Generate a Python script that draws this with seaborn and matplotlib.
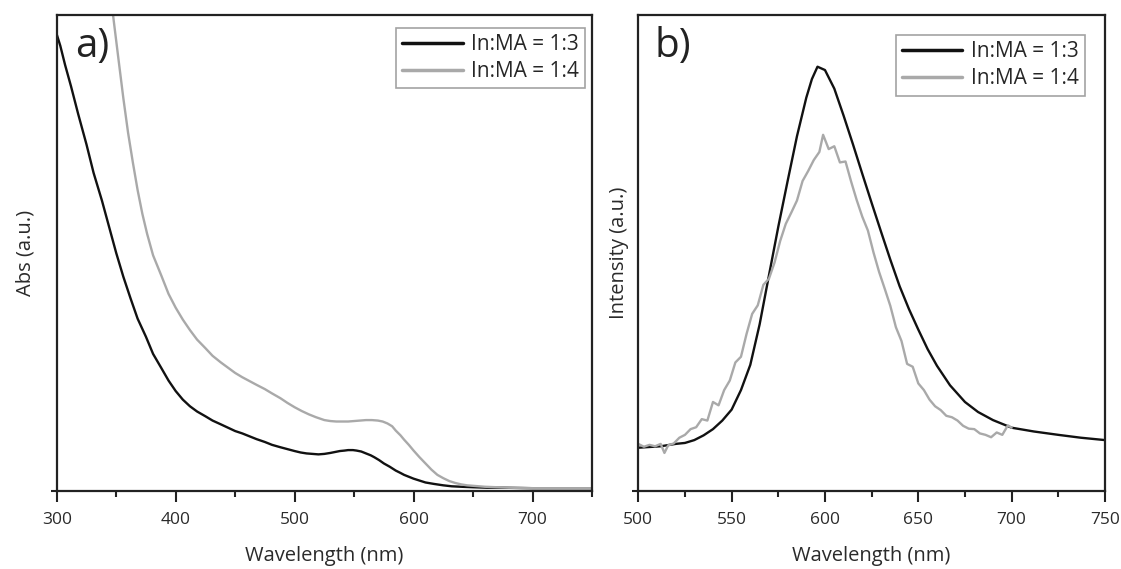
import matplotlib
matplotlib.use("Agg")
import matplotlib.pyplot as plt
import seaborn as sns
import pandas as pd
import numpy as np
from matplotlib.ticker import MultipleLocator

# ---- data (arbitrary units, 0 = bottom spine, 1 = top spine) ----
abs_wl_13 = [300, 303, 307, 312, 318, 325, 331, 338, 344, 350, 356, 362, 368, 375, 381, 388,
             394, 400, 406, 412, 418, 425, 431, 438, 444, 450, 456, 462, 468, 475, 481, 488,
             494, 500, 505, 510, 515, 520, 525, 530, 534, 538, 542, 545, 549, 552, 556, 560,
             564, 567, 571, 575, 580, 585, 589, 592, 596, 600, 605, 610, 617, 625, 632, 640,
             650, 662, 675, 700, 725, 750]
abs_13 = [0.959, 0.935, 0.895, 0.85, 0.792, 0.728, 0.668, 0.61, 0.555, 0.50, 0.450, 0.405,
          0.362, 0.324, 0.288, 0.258, 0.232, 0.21, 0.192, 0.178, 0.167, 0.157, 0.148, 0.14,
          0.133, 0.126, 0.121, 0.115, 0.109, 0.103, 0.097, 0.092, 0.088, 0.084, 0.081, 0.079,
          0.078, 0.077, 0.078, 0.080, 0.082, 0.084, 0.085, 0.086, 0.086, 0.085, 0.083, 0.079,
          0.075, 0.071, 0.065, 0.058, 0.051, 0.043, 0.038, 0.034, 0.030, 0.026, 0.022, 0.018,
          0.015, 0.012, 0.010, 0.009, 0.008, 0.007, 0.007, 0.006, 0.006, 0.006]

abs_wl_14 = [345, 348, 352, 356, 360, 364, 368, 372, 376, 381, 388, 394, 400, 406, 412, 418,
             425, 431, 438, 444, 450, 456, 462, 468, 475, 481, 488, 494, 500, 506, 512, 518,
             525, 530, 535, 540, 545, 550, 555, 560, 565, 570, 574, 578, 582, 585, 589, 592,
             596, 600, 605, 610, 615, 620, 625, 630, 635, 640, 645, 650, 660, 670, 680, 700,
             725, 750]
abs_14 = [1.05, 0.986, 0.905, 0.825, 0.752, 0.69, 0.632, 0.582, 0.54, 0.495, 0.452, 0.414,
          0.385, 0.36, 0.338, 0.318, 0.30, 0.284, 0.27, 0.259, 0.248, 0.239, 0.231, 0.223,
          0.214, 0.205, 0.195, 0.185, 0.176, 0.168, 0.161, 0.155, 0.149, 0.147, 0.146, 0.146,
          0.146, 0.147, 0.148, 0.149, 0.149, 0.148, 0.146, 0.142, 0.136, 0.127, 0.117, 0.108,
          0.097, 0.085, 0.071, 0.058, 0.045, 0.034, 0.027, 0.021, 0.017, 0.014, 0.012, 0.011,
          0.009, 0.008, 0.007, 0.006, 0.006, 0.006]

pl_wl_13 = [500, 512, 520, 525, 530, 535, 540, 545, 550, 555, 560, 565, 570, 575, 580, 585,
            590, 593, 596, 600, 605, 610, 615, 620, 625, 630, 635, 640, 645, 650, 655, 660,
            667, 675, 682, 690, 700, 712, 725, 737, 750]
pl_13 = [0.091, 0.094, 0.099, 0.101, 0.107, 0.117, 0.130, 0.148, 0.171, 0.212, 0.265, 0.350,
         0.453, 0.555, 0.651, 0.745, 0.826, 0.865, 0.891, 0.884, 0.845, 0.788, 0.728, 0.666,
         0.605, 0.545, 0.486, 0.430, 0.382, 0.339, 0.298, 0.263, 0.222, 0.187, 0.166, 0.149,
         0.133, 0.125, 0.118, 0.112, 0.107]

pl_wl_14 = [500, 503, 506, 509, 512, 514, 516, 519, 522, 525, 528, 531, 534, 537, 540, 543,
            546, 549, 552, 555, 558, 561, 564, 567, 570, 573, 576, 579, 582, 585, 588, 591,
            594, 597, 599, 602, 605, 608, 611, 614, 617, 620, 623, 626, 629, 632, 635, 638,
            641, 644, 647, 650, 653, 656, 659, 662, 665, 668, 671, 674, 677, 680, 683, 686,
            689, 692, 695, 698, 700]
pl_14 = [0.099, 0.093, 0.097, 0.094, 0.099, 0.080, 0.096, 0.100, 0.112, 0.118, 0.130, 0.134,
         0.151, 0.148, 0.187, 0.180, 0.212, 0.232, 0.270, 0.282, 0.330, 0.372, 0.390, 0.433,
         0.446, 0.480, 0.525, 0.561, 0.585, 0.610, 0.651, 0.672, 0.695, 0.712, 0.748, 0.718,
         0.724, 0.690, 0.692, 0.650, 0.611, 0.576, 0.547, 0.501, 0.460, 0.425, 0.389, 0.344,
         0.315, 0.267, 0.261, 0.226, 0.212, 0.192, 0.178, 0.170, 0.158, 0.155, 0.148, 0.137,
         0.131, 0.130, 0.121, 0.118, 0.113, 0.123, 0.118, 0.138, 0.133]

labels = ["In:MA = 1:3", "In:MA = 1:4"]
colors = ["#111111", "#a9a9a9"]

sns.set_theme(style="ticks")
plt.rcParams["font.family"] = ["Open Sans", "DejaVu Sans"]

abs_df = pd.concat([
    pd.DataFrame({"wl": abs_wl_13, "val": abs_13, "sample": labels[0]}),
    pd.DataFrame({"wl": abs_wl_14, "val": abs_14, "sample": labels[1]}),
])
pl_df = pd.concat([
    pd.DataFrame({"wl": pl_wl_13, "val": pl_13, "sample": labels[0]}),
    pd.DataFrame({"wl": pl_wl_14, "val": pl_14, "sample": labels[1]}),
])

fig = plt.figure(figsize=(11.21, 5.69), dpi=100)
ax1 = fig.add_axes([0.0506, 0.137, 0.4775, 0.837])
ax2 = fig.add_axes([0.5694, 0.137, 0.4163, 0.837])

palette = dict(zip(labels, colors))
sns.lineplot(data=abs_df, x="wl", y="val", hue="sample", palette=palette, ax=ax1,
             linewidth=1.7, sort=False, estimator=None)
sns.lineplot(data=pl_df, x="wl", y="val", hue="sample", palette=palette, ax=ax2,
             linewidth=1.7, sort=False, estimator=None)


def style(ax, xlim, major, minor, ylabel, ylabelpad, tag, leg_anchor):
    ax.set_xlim(*xlim)
    ax.set_ylim(0, 1)
    ax.xaxis.set_major_locator(MultipleLocator(major))
    ax.xaxis.set_minor_locator(MultipleLocator(minor))
    ax.set_yticks([0])
    ax.set_yticklabels([])
    ax.tick_params(axis="x", which="major", direction="out", length=8, width=1.5,
                   pad=7, labelsize=12.5, color="#222222", labelcolor="#2a2a2a")
    ax.tick_params(axis="x", which="minor", direction="out", length=4.5, width=1.5,
                   color="#222222")
    ax.tick_params(axis="y", which="major", direction="out", length=4, width=1.5,
                   color="#222222")
    for sp in ax.spines.values():
        sp.set_linewidth(1.6)
        sp.set_color("#222222")
        sp.set_visible(True)
    ax.set_xlabel("Wavelength (nm)", fontsize=14.5, color="#2a2a2a", labelpad=13)
    ax.set_ylabel(ylabel, fontsize=14.5, color="#2a2a2a", labelpad=ylabelpad)
    ax.text(0.035, 0.975, tag, transform=ax.transAxes, fontsize=29, va="top", ha="left",
            color="#222222")
    leg = ax.legend(loc="upper right", bbox_to_anchor=leg_anchor, borderaxespad=0,
                    fontsize=15, frameon=True, fancybox=False, handlelength=2.9,
                    labelspacing=0.3, borderpad=0.3, handletextpad=0.4)
    leg.get_frame().set_edgecolor("#8c8c8c")
    leg.get_frame().set_linewidth(1.2)
    for line in leg.get_lines():
        line.set_linewidth(2.5)


style(ax1, (300, 750), 100, 50, "Abs (a.u.)", 8, "a)", (0.987, 0.973))
style(ax2, (500, 750), 50, 25, "Intensity (a.u.)", -1, "b)", (0.957, 0.958))

fig.savefig("out.png", dpi=100)
